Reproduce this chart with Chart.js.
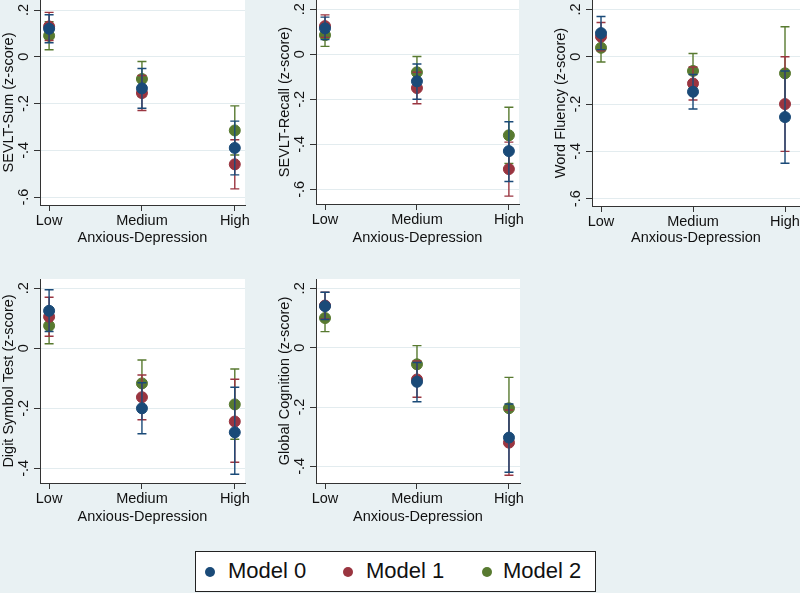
<!DOCTYPE html>
<html>
<head>
<meta charset="utf-8">
<script src="https://cdn.jsdelivr.net/npm/chart.js@4/dist/chart.umd.min.js"></script>
<style>
  html, body { margin: 0; padding: 0; }
  body { width: 800px; height: 593px; background: #e9f1f3; position: relative; overflow: hidden;
         font-family: 'Liberation Sans', Arial, sans-serif; }
  canvas { position: absolute; }
  #legend { position: absolute; left: 195px; top: 551px; width: 399px; height: 39px;
            background: #fff; border: 1px solid #222; }
  #legend span.dot { position: absolute; top: 15px; width: 10px; height: 10px; border-radius: 50%; }
  #legend span.txt { position: absolute; top: 6px; font-size: 22px; color: #111; line-height: 26px; }
</style>
</head>
<body>
<canvas id="p1" width="265" height="250" style="left:0;top:0"></canvas>
<canvas id="p2" width="263" height="250" style="left:276px;top:0"></canvas>
<canvas id="p3" width="248" height="250" style="left:552px;top:0"></canvas>
<canvas id="p4" width="265" height="250" style="left:0;top:279px"></canvas>
<canvas id="p5" width="264" height="250" style="left:276px;top:279px"></canvas>
<div id="legend"></div>
<script>
const categories = ['Low', 'Medium', 'High']
const models = ['Model 0', 'Model 1', 'Model 2']
const modelColors = ['#1a4a78', '#9a3540', '#587a30']
const xTitle = 'Anxious-Depression'
const yTicksTop = [-0.6, -0.4, -0.2, 0, 0.2]
const yTicksBottom = [-0.4, -0.2, 0, 0.2]

// rows = Model 0, Model 1, Model 2; columns = Low, Medium, High
const sumMean = [[0.12, -0.135, -0.39], [0.13, -0.155, -0.46], [0.09, -0.095, -0.315]]
const sumLo = [[0.06, -0.22, -0.505], [0.07, -0.23, -0.565], [0.03, -0.17, -0.42]]
const sumHi = [[0.18, -0.05, -0.275], [0.19, -0.08, -0.355], [0.15, -0.02, -0.21]]

const recallMean = [[0.115, -0.12, -0.43], [0.125, -0.15, -0.51], [0.085, -0.08, -0.36]]
const recallLo = [[0.065, -0.2, -0.565], [0.075, -0.22, -0.63], [0.035, -0.15, -0.485]]
const recallHi = [[0.165, -0.043, -0.3], [0.175, -0.08, -0.39], [0.135, -0.01, -0.235]]

const fluencyMean = [[0.1, -0.148, -0.255], [0.085, -0.113, -0.2], [0.038, -0.06, -0.07]]
const fluencyLo = [[0.03, -0.221, -0.45], [0.025, -0.183, -0.4], [-0.022, -0.133, -0.27]]
const fluencyHi = [[0.17, -0.075, -0.06], [0.145, -0.043, 0.0], [0.098, 0.014, 0.127]]

const digitMean = [[0.125, -0.2, -0.28], [0.105, -0.163, -0.244], [0.075, -0.117, -0.187]]
const digitLo = [[0.056, -0.285, -0.42], [0.04, -0.238, -0.38], [0.015, -0.195, -0.303]]
const digitHi = [[0.195, -0.115, -0.13], [0.17, -0.089, -0.103], [0.135, -0.039, -0.069]]

const globalMean = [[0.14, -0.115, -0.303], [0.142, -0.107, -0.32], [0.1, -0.056, -0.204]]
const globalLo = [[0.095, -0.182, -0.42], [0.097, -0.167, -0.43], [0.054, -0.12, -0.31]]
const globalHi = [[0.187, -0.05, -0.19], [0.187, -0.045, -0.21], [0.15, 0.007, -0.1]]

const FONT = "'Liberation Sans', Arial, sans-serif"
const TEXT = '#111'
const AXIS = '#333'
const GRID = '#e3ecef'

// white plot region, like the Stata plotregion
const plotBg = {
  id: 'plotBg',
  beforeDraw(chart) {
    const a = chart.chartArea
    const ctx = chart.ctx
    ctx.save()
    ctx.fillStyle = '#ffffff'
    ctx.fillRect(a.left, a.top, a.right - a.left, a.bottom - a.top)
    ctx.restore()
  }
}

// draws the confidence interval caps for a dataset just before its points
const errorBars = {
  id: 'errorBars',
  beforeDatasetDraw(chart, args) {
    const ds = chart.data.datasets[args.index]
    const xs = chart.scales.x, ys = chart.scales.y
    const ctx = chart.ctx
    ctx.save()
    ctx.strokeStyle = ds.borderColor
    ctx.lineWidth = 1.4
    ds.lo.forEach((lo, i) => {
      const px = xs.getPixelForValue(i)
      const top = ys.getPixelForValue(ds.hi[i])
      const bot = ys.getPixelForValue(lo)
      ctx.beginPath()
      ctx.moveTo(px, top); ctx.lineTo(px, bot)
      ctx.moveTo(px - 4.5, top); ctx.lineTo(px + 4.5, top)
      ctx.moveTo(px - 4.5, bot); ctx.lineTo(px + 4.5, bot)
      ctx.stroke()
    })
    ctx.restore()
  }
}

function fmtTick(v) {
  if (Math.abs(v) < 1e-9) return '0'
  return v.toFixed(1).replace('0.', '.')
}

function makePanel(id, title, mean, lo, hi, yTicks, yMin, yMax, xMax, xHeight, padRight) {
  const datasets = models.map((m, k) => ({
    label: m,
    data: mean[k].map((v, i) => ({ x: i, y: v })),
    lo: lo[k],
    hi: hi[k],
    backgroundColor: modelColors[k],
    borderColor: modelColors[k],
    pointRadius: 5.5,
    pointHoverRadius: 5.5,
    pointBorderWidth: 1,
    showLine: false,
    clip: false
  }))

  return new Chart(document.getElementById(id), {
    type: 'scatter',
    data: { datasets },
    plugins: [plotBg, errorBars],
    options: {
      responsive: false,
      animation: false,
      events: [],
      layout: { padding: { left: 0, top: 0, bottom: 0, right: padRight }, autoPadding: false },
      plugins: { legend: { display: false }, tooltip: { enabled: false } },
      scales: {
        x: {
          type: 'linear',
          min: -0.098,
          max: xMax,
          afterBuildTicks: s => { s.ticks = categories.map((c, i) => ({ value: i })) },
          afterFit: s => { s.height = xHeight; s.paddingLeft = 0; s.paddingRight = 0 },
          ticks: {
            callback: v => categories[v],
            color: TEXT,
            font: { family: FONT, size: 14.5 },
            padding: 1,
            maxRotation: 0,
            autoSkip: false
          },
          grid: { drawOnChartArea: false, drawTicks: true, tickLength: 6, tickColor: AXIS },
          border: { color: AXIS, width: 1 },
          title: {
            display: true,
            text: xTitle,
            color: TEXT,
            font: { family: FONT, size: 14.5 },
            padding: { top: 0, bottom: 3 }
          }
        },
        y: {
          min: yMin,
          max: yMax,
          afterBuildTicks: s => { s.ticks = yTicks.map(v => ({ value: v })) },
          afterFit: s => { s.width = 40; s.paddingTop = 0; s.paddingBottom = 0 },
          ticks: {
            callback: v => fmtTick(v),
            color: TEXT,
            font: { family: FONT, size: 14.5 },
            minRotation: 90,
            maxRotation: 90,
            crossAlign: 'center',
            padding: 2,
            autoSkip: false
          },
          grid: { color: GRID, lineWidth: 1, drawTicks: true, tickLength: 6, tickColor: AXIS },
          border: { color: AXIS, width: 1 },
          title: {
            display: true,
            text: title,
            color: TEXT,
            font: { family: FONT, size: 14.5 },
            padding: 0
          }
        }
      }
    }
  })
}

makePanel('p1', 'SEVLT-Sum (z-score)', sumMean, sumLo, sumHi, yTicksTop, -0.634, 0.243, 2.11, 45, 20)
makePanel('p2', 'SEVLT-Recall (z-score)', recallMean, recallLo, recallHi, yTicksTop, -0.665, 0.241, 2.11, 46, 20)
makePanel('p3', 'Word Fluency (z-score)', fluencyMean, fluencyLo, fluencyHi, yTicksTop, -0.631, 0.24, 2.163, 44, 0)
makePanel('p4', 'Digit Symbol Test (z-score)', digitMean, digitLo, digitHi, yTicksBottom, -0.449, 0.231, 2.11, 46, 20)
makePanel('p5', 'Global Cognition (z-score)', globalMean, globalLo, globalHi, yTicksBottom, -0.456, 0.2315, 2.12, 46, 20)

// legend box under the panels
const legend = document.getElementById('legend')
const dotLeft = [9, 147, 286]
const txtLeft = [32, 170, 307]
models.forEach((m, k) => {
  const d = document.createElement('span')
  d.className = 'dot'
  d.style.left = dotLeft[k] + 'px'
  d.style.background = modelColors[k]
  legend.appendChild(d)
  const t = document.createElement('span')
  t.className = 'txt'
  t.style.left = txtLeft[k] + 'px'
  t.textContent = m
  legend.appendChild(t)
})
</script>
</body>
</html>
